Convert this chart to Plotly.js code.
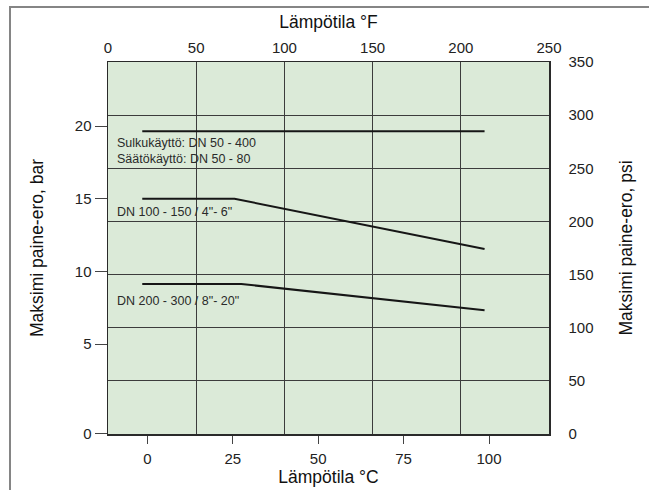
<!DOCTYPE html>
<html>
<head>
<meta charset="utf-8">
<script src="https://cdn.plot.ly/plotly-3.0.1.min.js"></script>
<style>
  html, body { margin: 0; padding: 0; background: #ffffff; overflow: hidden; }
  #frame { position: absolute; left: 9px; top: 6px; width: 700px; height: 600px;
           border-left: 2px solid #858585; border-top: 2px solid #858585; }
  #chart { position: absolute; left: 0; top: 0; width: 649px; height: 490px; }
</style>
</head>
<body>
<div id="frame"></div>
<div id="chart"></div>
<script>
// ---- data (temperature in °C, max differential pressure in bar) ----
const tempTop = [-1.5, 98.7];
const barTop  = [19.64, 19.64];

const tempMid = [-1.5, 25.5, 98.7];
const barMid  = [15.0, 15.0, 11.55];

const tempLow = [-1.5, 27.5, 98.7];
const barLow  = [9.14, 9.14, 7.33];

// tick labels
const barTickVals  = [-1.15, 5, 10, 15, 20];
const barTickText  = ['0', '5', '10', '15', '20'];
const cTickVals    = [0, 25, 50, 75, 100];
const fTickVals    = [0, 50, 100, 150, 200, 250];
const psiTickVals  = [0, 50, 100, 150, 200, 250, 300, 350];

const labelTexts = [
  'Sulkukäyttö: DN 50 - 400',
  'Säätökäyttö: DN 50 - 80',
  'DN 100 - 150 / 4"- 6"',
  'DN 200 - 300 / 8"- 20"'
];

const FONT = '"Liberation Sans", Arial, sans-serif';
const lineStyle = { color: '#161616', width: 2 };

const traces = [
  { x: tempTop, y: barTop, mode: 'lines', line: lineStyle, showlegend: false, hoverinfo: 'skip' },
  { x: tempMid, y: barMid, mode: 'lines', line: lineStyle, showlegend: false, hoverinfo: 'skip' },
  { x: tempLow, y: barLow, mode: 'lines', line: lineStyle, showlegend: false, hoverinfo: 'skip' },
  { x: [], y: [], xaxis: 'x2', yaxis: 'y2', mode: 'lines', showlegend: false, hoverinfo: 'skip' }
];

const labelY = [0.7815, 0.7384, 0.5976, 0.3575];

const layout = {
  width: 649, height: 490,
  margin: { l: 108, r: 100, t: 62, b: 56, pad: 0 },
  paper_bgcolor: 'rgba(0,0,0,0)',
  plot_bgcolor: '#dbead8',
  font: { family: FONT, size: 15, color: '#222' },
  showlegend: false,
  xaxis: {
    range: [-11.53, 117.56],
    tickvals: cTickVals,
    ticks: 'outside', ticklen: 8, tickcolor: '#444', tickwidth: 1,
    ticklabelstandoff: 2,
    showgrid: false, zeroline: false,
    showline: true, linecolor: '#2a2a2a', linewidth: 1.5,
    tickfont: { family: FONT, size: 15, color: '#222' },
    title: { text: 'Lämpötila °C', font: { family: FONT, size: 17.5, color: '#111' }, standoff: 5 },
    automargin: false
  },
  xaxis2: {
    overlaying: 'x', side: 'top', anchor: 'y2',
    range: [0, 250],
    tickvals: fTickVals,
    ticks: '', ticklabelstandoff: 2,
    showgrid: true, gridcolor: '#3c3c3c', gridwidth: 1,
    zeroline: false,
    showline: true, linecolor: '#2a2a2a', linewidth: 1.5,
    tickfont: { family: FONT, size: 15, color: '#222' },
    title: { text: 'Lämpötila °F', font: { family: FONT, size: 17.5, color: '#111' }, standoff: 5 },
    automargin: false
  },
  yaxis: {
    range: [-1.17, 24.40],
    tickvals: barTickVals, ticktext: barTickText,
    ticks: 'outside', ticklen: 12, tickcolor: '#444', tickwidth: 1,
    showgrid: false, zeroline: false,
    showline: true, linecolor: '#2a2a2a', linewidth: 1.5,
    tickfont: { family: FONT, size: 15, color: '#222' },
    title: { text: 'Maksimi paine-ero, bar', font: { family: FONT, size: 17.5, color: '#111' }, standoff: 26 },
    automargin: false
  },
  yaxis2: {
    overlaying: 'y', side: 'right', anchor: 'x2',
    range: [0, 350],
    tickvals: psiTickVals,
    ticks: '', ticklabelstandoff: 15,
    showgrid: true, gridcolor: '#3c3c3c', gridwidth: 1,
    zeroline: false,
    showline: true, linecolor: '#2a2a2a', linewidth: 1.5,
    tickfont: { family: FONT, size: 15, color: '#222' },
    title: { text: 'Maksimi paine-ero, psi', font: { family: FONT, size: 17.5, color: '#111' }, standoff: 27 },
    automargin: false
  },
  annotations: labelTexts.map((t, i) => ({
    text: t, xref: 'paper', yref: 'paper', x: 0.0152, y: labelY[i],
    xanchor: 'left', yanchor: 'middle', showarrow: false,
    font: { family: FONT, size: 12.5, color: '#2a2a2a' }
  }))
};

Plotly.newPlot('chart', traces, layout, { displayModeBar: false, staticPlot: true });
</script>
</body>
</html>
